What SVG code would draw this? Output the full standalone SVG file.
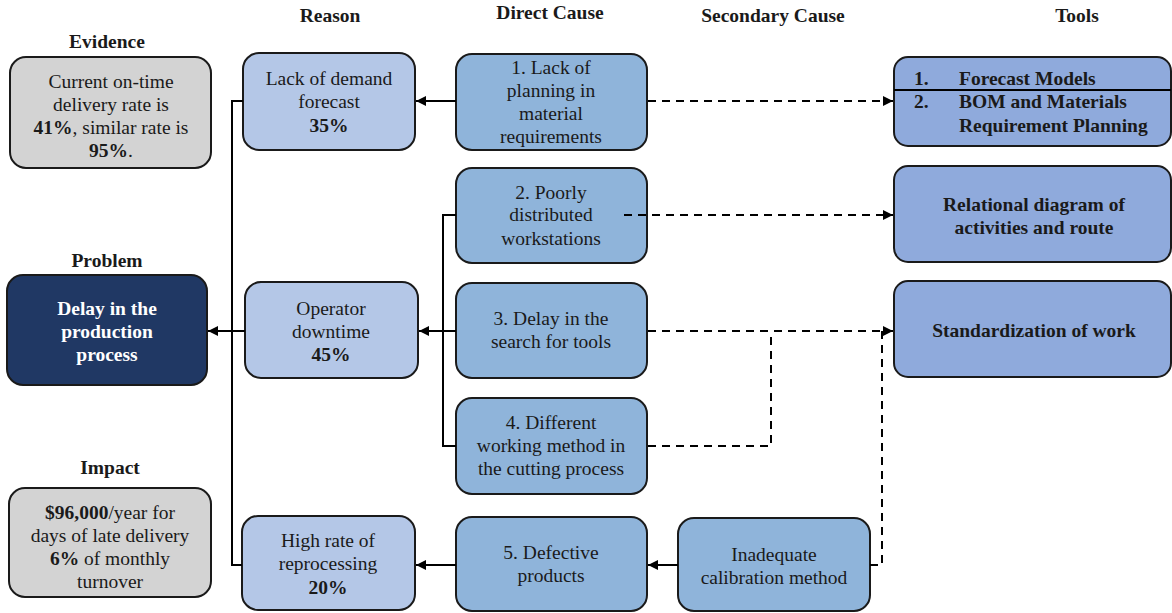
<svg xmlns="http://www.w3.org/2000/svg" width="1172" height="613" viewBox="0 0 1172 613">
<defs>
<marker id="ah" viewBox="0 0 10 10" refX="10" refY="5" markerWidth="10" markerHeight="10" markerUnits="userSpaceOnUse" orient="auto">
<path d="M0,0 L10,5 L0,10 z" fill="#000"/>
</marker>
<style>
text{font-family:'Liberation Serif','DejaVu Serif',serif;font-size:19.5px;fill:#1a1a1a;text-anchor:middle}
.h{font-weight:bold}
.b{font-weight:bold}
.box{stroke:#1a1a1a;stroke-width:2}
.gray{fill:#d3d3d3}
.navy{fill:#203864}
.light{fill:#b4c7e7}
.mid{fill:#8fb4da}
.tool{fill:#8faadc}
.ln{fill:none;stroke:#000;stroke-width:2}
.dash{fill:none;stroke:#000;stroke-width:2;stroke-dasharray:8 6}
.w{fill:#fff;font-weight:bold}
.l{text-anchor:start}
</style>
</defs>
<rect width="1172" height="613" fill="#fff"/>
<g id="headers" font-family="Liberation Serif, serif">
<text class="h" x="330" y="22">Reason</text>
<text class="h" x="550" y="19">Direct Cause</text>
<text class="h" x="773" y="22">Secondary Cause</text>
<text class="h" x="1077" y="22">Tools</text>
<text class="h" x="107" y="48">Evidence</text>
<text class="h" x="107" y="267">Problem</text>
<text class="h" x="110" y="474">Impact</text>
</g>
<g id="evidence">
<rect class="box gray" x="10" y="57" width="201" height="111" rx="16"/>
<text x="111" y="88">Current on-time</text>
<text x="111" y="111">delivery rate is</text>
<text x="111" y="134"><tspan class="b">41%</tspan>, similar rate is</text>
<text x="111" y="157"><tspan class="b">95%</tspan>.</text>
</g>
<g id="problem">
<rect class="box navy" x="7" y="275" width="200" height="110" rx="16"/>
<text class="w" x="107" y="315">Delay in the</text>
<text class="w" x="107" y="338">production</text>
<text class="w" x="107" y="361">process</text>
</g>
<g id="impact">
<rect class="box gray" x="9" y="488" width="202" height="109" rx="16"/>
<text x="110" y="519"><tspan class="b">$96,000</tspan>/year for</text>
<text x="110" y="542">days of late delivery</text>
<text x="110" y="565"><tspan class="b">6%</tspan> of monthly</text>
<text x="110" y="588">turnover</text>
</g>
<g id="reason1">
<rect class="box light" x="243" y="53" width="172" height="97" rx="16"/>
<text x="329" y="85">Lack of demand</text>
<text x="329" y="108">forecast</text>
<text class="b" x="329" y="132">35%</text>
</g>
<g id="reason2">
<rect class="box light" x="245" y="282" width="173" height="96" rx="16"/>
<text x="331" y="315">Operator</text>
<text x="331" y="338">downtime</text>
<text class="b" x="331" y="361">45%</text>
</g>
<g id="reason3">
<rect class="box light" x="242" y="516" width="173" height="94" rx="16"/>
<text x="328" y="547">High rate of</text>
<text x="328" y="570">reprocessing</text>
<text class="b" x="328" y="594">20%</text>
</g>
<g id="direct1">
<rect class="box mid" x="456" y="54" width="191" height="96" rx="16"/>
<text x="551" y="74">1. Lack of</text>
<text x="551" y="97">planning in</text>
<text x="551" y="120">material</text>
<text x="551" y="143">requirements</text>
</g>
<g id="direct2">
<rect class="box mid" x="456" y="168" width="191" height="95" rx="16"/>
<text x="551" y="199">2. Poorly</text>
<text x="551" y="221">distributed</text>
<text x="551" y="245">workstations</text>
</g>
<g id="direct3">
<rect class="box mid" x="456" y="283" width="191" height="95" rx="16"/>
<text x="551" y="325">3. Delay in the</text>
<text x="551" y="348">search for tools</text>
</g>
<g id="direct4">
<rect class="box mid" x="456" y="398" width="191" height="96" rx="16"/>
<text x="551" y="429">4. Different</text>
<text x="551" y="452">working method in</text>
<text x="551" y="475">the cutting process</text>
</g>
<g id="direct5">
<rect class="box mid" x="456" y="517" width="191" height="94" rx="16"/>
<text x="551" y="559">5. Defective</text>
<text x="551" y="582">products</text>
</g>
<g id="secondary1">
<rect class="box mid" x="678" y="518" width="192" height="93" rx="16"/>
<text x="774" y="561">Inadequate</text>
<text x="774" y="584">calibration method</text>
</g>
<g id="tool1">
<rect class="box tool" x="894" y="57" width="277" height="89" rx="14"/>
<line class="ln" x1="894" y1="90" x2="1171" y2="90"/>
<text class="b l" x="914" y="85">1.</text>
<text class="b l" x="959" y="85">Forecast Models</text>
<text class="b l" x="914" y="108">2.</text>
<text class="b l" x="959" y="108">BOM and Materials</text>
<text class="b l" x="959" y="132">Requirement Planning</text>
</g>
<g id="tool2">
<rect class="box tool" x="894" y="166" width="277" height="96" rx="14"/>
<text class="b" x="1034" y="211">Relational diagram of</text>
<text class="b" x="1034" y="234">activities and route</text>
</g>
<g id="tool3">
<rect class="box tool" x="894" y="281" width="277" height="96" rx="14"/>
<text class="b" x="1034" y="337">Standardization of work</text>
</g>
<g id="connectors">
<polyline class="ln" points="243,101 232,101 232,565 242,565"/>
<line class="ln" x1="245" y1="331" x2="208" y2="331" marker-end="url(#ah)"/>
<line class="ln" x1="456" y1="101" x2="416" y2="101" marker-end="url(#ah)"/>
<polyline class="ln" points="456,215 443,215 443,446 456,446"/>
<line class="ln" x1="456" y1="331" x2="419" y2="331" marker-end="url(#ah)"/>
<line class="ln" x1="456" y1="565" x2="416" y2="565" marker-end="url(#ah)"/>
<line class="ln" x1="678" y1="565" x2="648" y2="565" marker-end="url(#ah)"/>
<line class="dash" x1="648" y1="101" x2="893" y2="101" marker-end="url(#ah)"/>
<line class="dash" x1="624" y1="215" x2="893" y2="215" marker-end="url(#ah)"/>
<line class="dash" x1="648" y1="331" x2="893" y2="331" marker-end="url(#ah)"/>
<polyline class="dash" points="648,446 771,446 771,331"/>
<polyline class="dash" points="870,565 882,565 882,331"/>
</g>
</svg>
